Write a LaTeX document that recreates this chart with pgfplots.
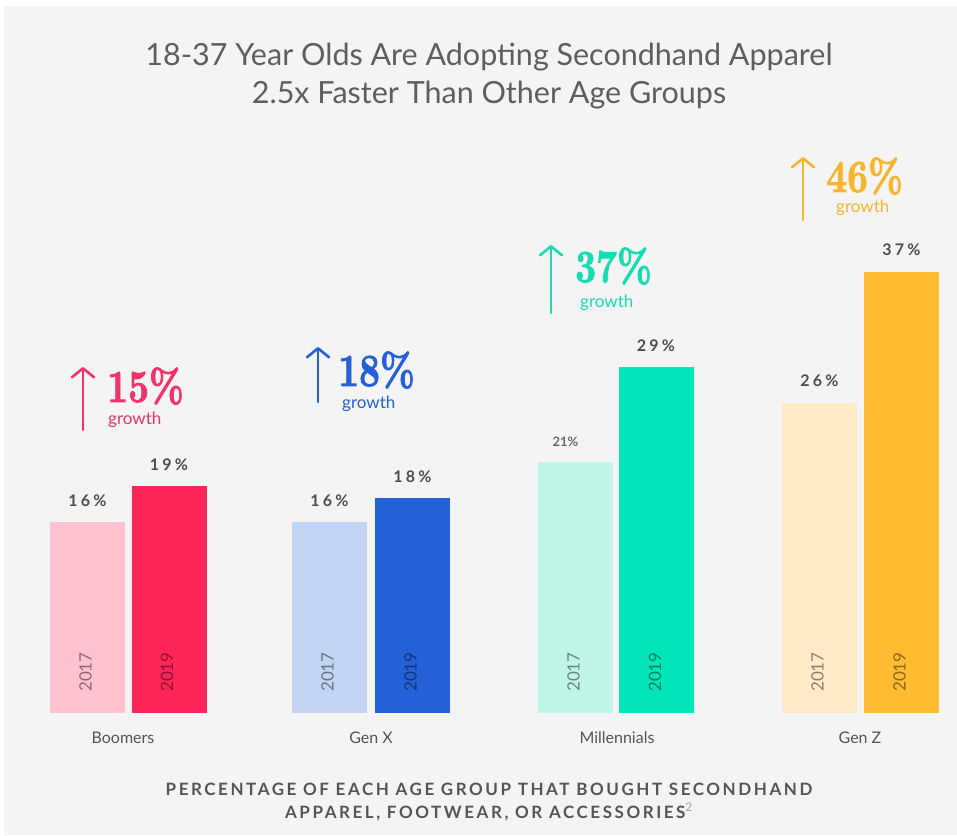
\documentclass[border=0pt]{standalone}
\usepackage{pgfplots}
\pgfplotsset{compat=1.18}
\usetikzlibrary{arrows.meta}
\usepackage{fontspec}
\setmainfont{Lato}
\newfontfamily\lblfont[LetterSpace=20]{Lato}
\newfontfamily\capfont[LetterSpace=15]{Lato}
\newfontfamily\bigfont[FakeBold=2]{lmroman10-bold.otf}
\definecolor{bg}{HTML}{F4F4F4}
\definecolor{boomL}{HTML}{FFC2CE}
\definecolor{boomD}{HTML}{FF2559}
\definecolor{boomT}{HTML}{F0336A}
\definecolor{genxL}{HTML}{C2D3F4}
\definecolor{genxD}{HTML}{2461D8}
\definecolor{genxT}{HTML}{2461D8}
\definecolor{milL}{HTML}{BFF6E8}
\definecolor{milD}{HTML}{00E6B8}
\definecolor{milT}{HTML}{14DDB2}
\definecolor{genzL}{HTML}{FFE9C7}
\definecolor{genzD}{HTML}{FFBC33}
\definecolor{genzT}{HTML}{F7B52C}
\definecolor{txt}{HTML}{555555}
\definecolor{vtxt}{HTML}{4D4D4D}
\begin{document}
\begin{tikzpicture}[x=1pt,y=1pt]
\fill[white] (0,0) rectangle (957,835);
\fill[bg] (4,0) rectangle (957,829);
\begin{axis}[at={(0,0)}, anchor=south west, scale only axis,
  width=957pt, height=835pt, xmin=0, xmax=957, ymin=-10.226, ymax=59.765,
  hide axis, clip=false, ybar, bar width=75pt, bar shift=0pt,
  /pgf/number format/assume math mode=true,
  nodes near coords={\pgfmathprintnumber{\pgfplotspointmeta}\%},
  every node near coord/.append style={font=\lblfont\bfseries\fontsize{16}{19}\selectfont, text=vtxt, anchor=base, inner sep=0pt, yshift=16pt}]
\addplot[fill=boomL, draw=none] coordinates {(87.5,16)};
\addplot[fill=boomD, draw=none] coordinates {(169,19)};
\addplot[fill=genxL, draw=none] coordinates {(329.5,16)};
\addplot[fill=genxD, draw=none] coordinates {(412.5,18)};
\addplot[fill=milL, draw=none, every node near coord/.append style={font=\bfseries\fontsize{13}{15}\selectfont, text=vtxt!85, xshift=-10pt}] coordinates {(575.5,21)};
\addplot[fill=milD, draw=none] coordinates {(656,29)};
\addplot[fill=genzL, draw=none] coordinates {(819.5,26)};
\addplot[fill=genzD, draw=none] coordinates {(901.5,37)};
\end{axis}
\begin{scope}[shift={(0pt,835pt)}, y=-1pt]
% title
\node[font=\fontsize{30.5}{36}\selectfont, text=txt!95, anchor=base] at (489,66) {18-37 Year Olds Are Adopting Secondhand Apparel};
\node[font=\fontsize{30.5}{36}\selectfont, text=txt!95, anchor=base] at (489,104) {2.5x Faster Than Other Age Groups};
% caption
\node[font=\capfont\bfseries\fontsize{17}{20}\selectfont, text=txt, anchor=base] at (489,795) {PERCENTAGE OF EACH AGE GROUP THAT BOUGHT SECONDHAND};
\node[font=\capfont\bfseries\fontsize{17}{20}\selectfont, text=txt, anchor=base] at (489,818) {APPAREL, FOOTWEAR, OR ACCESSORIES\textsuperscript{\mdseries\color{gray!70}2}};
% categories
\foreach \x/\n in {123/Boomers, 371/Gen X, 617/Millennials, 860/Gen Z}
  \node[font=\fontsize{16}{19}\selectfont, text=txt, anchor=base] at (\x,743) {\n};
% year labels
\foreach \x/\yr in {85.5/2017, 167/2019, 327.5/2017, 410.5/2019, 573.5/2017, 655/2019, 817.5/2017, 899.5/2019}
  \node[rotate=90, font=\fontsize{17}{20}\selectfont, text=black, opacity=0.45, anchor=center] at (\x,672) {\yr};
% growth annotations
\foreach \ax/\yb/\yt/\tx/\bb/\gx/\gb/\pc/\c in {83/430/367/107/402/108/425/15/boomT, 318/402/347/338/386/342/409/18/genxT, 551/313/245/575/282/580/308/37/milT, 803/220/157/826/192/836/213/46/genzT}{
  \draw[\c, line width=2.6pt, line cap=round, -{Straight Barb[length=9pt, width=22pt, line width=2.6pt, round]}] (\ax,\yb) -- (\ax,\yt);
  \node[text=\c, anchor=base west, inner sep=0pt] at (\tx,\bb) {\scalebox{0.79}[1]{\bigfont\fontsize{46}{50}\selectfont\pc\%}};
  \node[text=\c, anchor=base west, inner sep=0pt, font=\fontsize{17}{20}\selectfont] at (\gx,\gb) {growth};
}
\end{scope}
\end{tikzpicture}
\end{document}
